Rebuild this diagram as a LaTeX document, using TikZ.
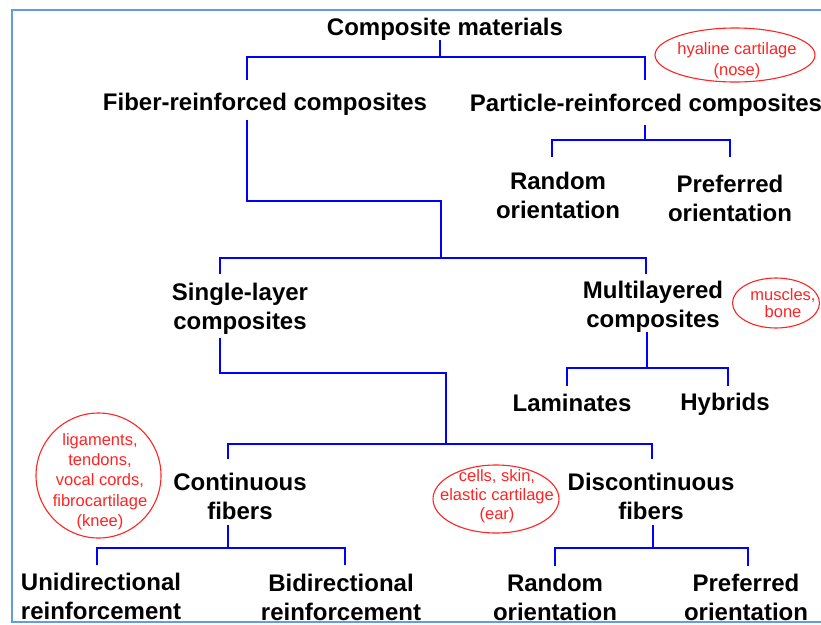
\documentclass[tikz,border=0pt]{standalone}
\usepackage{fontspec}
\setmainfont{Liberation Sans}
\usetikzlibrary{positioning}
\usetikzlibrary{shapes.geometric}
\definecolor{linkblue}{RGB}{0,0,255}
\definecolor{notered}{RGB}{255,35,35}
\definecolor{frameblue}{RGB}{100,158,215}
\tikzset{
    x=1pt, y=-1pt, % one unit is one pixel of the sketch, y grows downwards
    branch/.style={draw=linkblue, line width=2.9pt}, % the blue tree lines
    term/.style={anchor=north, align=center, inner sep=0pt,
        font=\fontsize{24}{29}\selectfont\bfseries}, % black class names
    note/.style={anchor=north, align=center, inner sep=0pt, text=notered,
        font=\fontsize{16.5}{20.3}\selectfont}, % red tissue examples
    oval/.style={ellipse, draw=notered, line width=1.1pt, inner sep=0pt},
    frame/.style={draw=frameblue, line width=1.3pt},
}

\begin{document}
\begin{tikzpicture}
  \useasboundingbox (0,0) rectangle (821,624);
  \draw[frame] (821,10) -| (12,622) -- (821,622);

  % class names
  \node[term] (cm)  at (445,18)  {Composite materials};
  \node[term] (fib) at (265,93)  {Fiber-reinforced composites};
  \node[term] (prc) at (646,94)  {Particle-reinforced composites};
  \node[term] (prr) at (558,172) {Random\\orientation};
  \node[term] (prp) at (730,175) {Preferred\\orientation};
  \node[term] (sl)  at (240,283) {Single-layer\\composites};
  \node[term] (ml)  at (653,281) {Multilayered\\composites};
  \node[term] (lam) at (572,394) {Laminates};
  \node[term] (hyb) at (725,393) {Hybrids};
  \node[term] (cf)  at (240,473) {Continuous\\fibers};
  \node[term] (df)  at (651,473) {Discontinuous\\fibers};
  \node[term] (uni) at (101,573) {Unidirectional\\reinforcement};
  \node[term] (bi)  at (341,574) {Bidirectional\\reinforcement};
  \node[term] (dfr) at (555,574) {Random\\orientation};
  \node[term] (dfp) at (746,574) {Preferred\\orientation};

  % red examples
  \node[oval, minimum width=160pt, minimum height=54pt] (nose) at (735,55) {};
  \node[note] (nose-t) at (737,42) {hyaline cartilage\\[0.7pt](nose)};
  \node[oval, minimum width=87pt, minimum height=50pt] (bone) at (776,303) {};
  \node[note] (bone-t) at (783,288) {muscles,\\[-2.5pt]bone};
  \node[oval, minimum width=125pt, minimum height=125pt] (knee) at (98.5,475.5) {};
  \node[note] (knee-t) at (100,433) {ligaments,\\tendons,\\vocal cords,\\fibrocartilage\\(knee)};
  \node[oval, minimum width=126pt, minimum height=68pt] (ear) at (496,499) {};
  \node[note] (ear-t) at (497,469) {cells, skin,\\[-1pt]elastic cartilage\\[-1pt](ear)};

  % ends and corners of the tree lines
  \coordinate (cm-s)  at (440,40);
  \coordinate (cm-j)  at (440,57);
  \coordinate (fib-n) at (247,80);
  \coordinate (prc-n) at (645,80);
  \coordinate (prc-s) at (645,125);
  \coordinate (prc-j) at (645,140);
  \coordinate (prr-n) at (552,157);
  \coordinate (prp-n) at (730,157);
  \coordinate (fib-s) at (247,120);
  \coordinate (fib-k) at (441,201);
  \coordinate (fib-j) at (441,258);
  \coordinate (sl-n)  at (220,274);
  \coordinate (ml-n)  at (646,274);
  \coordinate (sl-s)  at (220,338);
  \coordinate (sl-k)  at (446,373);
  \coordinate (sl-j)  at (446,444);
  \coordinate (cf-n)  at (228,459);
  \coordinate (df-n)  at (652,459);
  \coordinate (ml-s)  at (647,332);
  \coordinate (ml-j)  at (647,368);
  \coordinate (lam-n) at (567,386);
  \coordinate (hyb-n) at (728,386);
  \coordinate (cf-s)  at (228,525);
  \coordinate (cf-j)  at (228,548);
  \coordinate (uni-n) at (97,565);
  \coordinate (bi-n)  at (345,565);
  \coordinate (df-s)  at (653,525);
  \coordinate (df-j)  at (653,548);
  \coordinate (dfr-n) at (555,566);
  \coordinate (dfp-n) at (748,566);

  \draw[branch] (cm-s) -- (cm-j);
  \draw[branch] (fib-n) |- (cm-j) -| (prc-n);
  \draw[branch] (prc-s) -- (prc-j);
  \draw[branch] (prr-n) |- (prc-j) -| (prp-n);
  \draw[branch] (fib-s) |- (fib-k) -- (fib-j);
  \draw[branch] (sl-n) |- (fib-j) -| (ml-n);
  \draw[branch] (sl-s) |- (sl-k) -- (sl-j);
  \draw[branch] (cf-n) |- (sl-j) -| (df-n);
  \draw[branch] (ml-s) -- (ml-j);
  \draw[branch] (lam-n) |- (ml-j) -| (hyb-n);
  \draw[branch] (cf-s) -- (cf-j);
  \draw[branch] (uni-n) |- (cf-j) -| (bi-n);
  \draw[branch] (df-s) -- (df-j);
  \draw[branch] (dfr-n) |- (df-j) -| (dfp-n);
\end{tikzpicture}
\end{document}
